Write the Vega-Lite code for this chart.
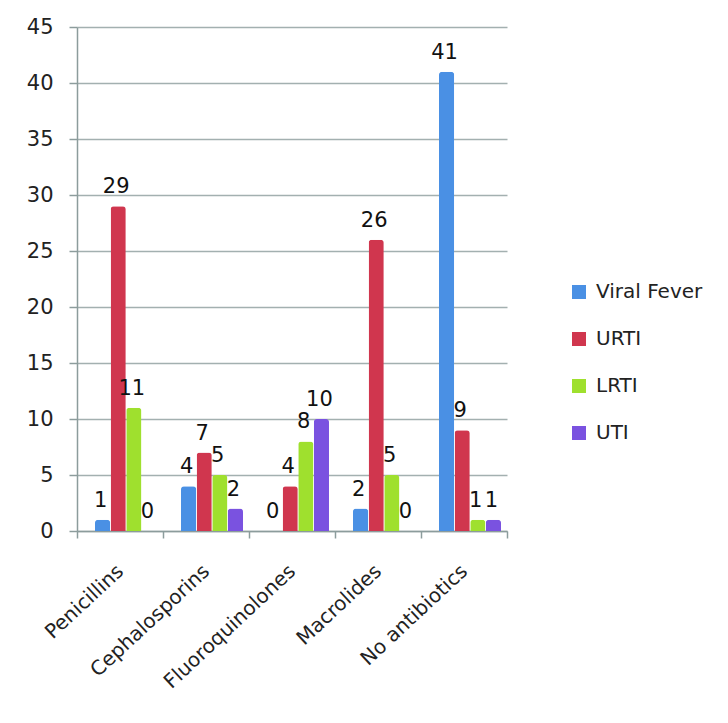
{
  "$schema": "https://vega.github.io/schema/vega-lite/v6.json",
  "autosize": "none",
  "width": 430,
  "height": 504,
  "padding": {"left": 77, "top": 27, "right": 221, "bottom": 192},
  "background": "white",
  "config": {
    "font": "DejaVu Sans",
    "view": {"stroke": null}
  },
  "data": {
    "values": [
      {"drug": "Penicillins", "diagnosis": "Viral Fever", "count": 1},
      {"drug": "Penicillins", "diagnosis": "URTI", "count": 29},
      {"drug": "Penicillins", "diagnosis": "LRTI", "count": 11},
      {"drug": "Penicillins", "diagnosis": "UTI", "count": 0},
      {"drug": "Cephalosporins", "diagnosis": "Viral Fever", "count": 4},
      {"drug": "Cephalosporins", "diagnosis": "URTI", "count": 7},
      {"drug": "Cephalosporins", "diagnosis": "LRTI", "count": 5},
      {"drug": "Cephalosporins", "diagnosis": "UTI", "count": 2},
      {"drug": "Fluoroquinolones", "diagnosis": "Viral Fever", "count": 0},
      {"drug": "Fluoroquinolones", "diagnosis": "URTI", "count": 4},
      {"drug": "Fluoroquinolones", "diagnosis": "LRTI", "count": 8},
      {"drug": "Fluoroquinolones", "diagnosis": "UTI", "count": 10},
      {"drug": "Macrolides", "diagnosis": "Viral Fever", "count": 2},
      {"drug": "Macrolides", "diagnosis": "URTI", "count": 26},
      {"drug": "Macrolides", "diagnosis": "LRTI", "count": 5},
      {"drug": "Macrolides", "diagnosis": "UTI", "count": 0},
      {"drug": "No antibiotics", "diagnosis": "Viral Fever", "count": 41},
      {"drug": "No antibiotics", "diagnosis": "URTI", "count": 9},
      {"drug": "No antibiotics", "diagnosis": "LRTI", "count": 1},
      {"drug": "No antibiotics", "diagnosis": "UTI", "count": 1}
    ]
  },
  "encoding": {
    "x": {
      "field": "drug",
      "type": "nominal",
      "sort": ["Penicillins", "Cephalosporins", "Fluoroquinolones", "Macrolides", "No antibiotics"],
      "scale": {"paddingInner": 0, "paddingOuter": 0},
      "axis": {
        "title": null,
        "labelAngle": -43,
        "labelAlign": "right",
        "labelBaseline": "middle",
        "labelFontSize": 20,
        "labelColor": "#222222",
        "labelPadding": 30,
        "tickBand": "extent",
        "tickSize": 7,
        "tickColor": "#8C9C9C",
        "domainColor": "#8C9C9C",
        "domainWidth": 1.5,
        "tickWidth": 1.5,
        "grid": false
      }
    },
    "xOffset": {
      "field": "diagnosis",
      "type": "nominal",
      "sort": ["Viral Fever", "URTI", "LRTI", "UTI"],
      "scale": {"paddingInner": 0.03, "range": [18, 80]}
    },
    "y": {
      "field": "count",
      "type": "quantitative",
      "scale": {"domain": [0, 45], "nice": false},
      "axis": {
        "title": null,
        "values": [0, 5, 10, 15, 20, 25, 30, 35, 40, 45],
        "labelFontSize": 21,
        "labelColor": "#222222",
        "labelPadding": 16,
        "tickSize": 8,
        "tickColor": "#8C9C9C",
        "tickWidth": 1.5,
        "domainColor": "#8C9C9C",
        "domainWidth": 1.5,
        "gridColor": "#A3B0B0",
        "gridWidth": 1.5
      }
    }
  },
  "layer": [
    {
      "mark": {"type": "bar", "cornerRadiusTopLeft": 3, "cornerRadiusTopRight": 3},
      "encoding": {
        "color": {
          "field": "diagnosis",
          "type": "nominal",
          "scale": {
            "domain": ["Viral Fever", "URTI", "LRTI", "UTI"],
            "range": ["#4A90E4", "#D0364E", "#9FE02E", "#7A52E0"]
          },
          "legend": {
            "title": null,
            "orient": "none",
            "legendX": 492,
            "legendY": 255,
            "symbolType": "square",
            "symbolSize": 196,
            "symbolStrokeWidth": 0,
            "labelFontSize": 20,
            "labelColor": "#222222",
            "rowPadding": 27,
            "labelOffset": 7
          }
        }
      }
    },
    {
      "mark": {"type": "text", "baseline": "bottom", "dy": -9, "dx": -2, "fontSize": 21, "color": "#111111"},
      "encoding": {
        "text": {"field": "count", "type": "quantitative"}
      }
    }
  ]
}
